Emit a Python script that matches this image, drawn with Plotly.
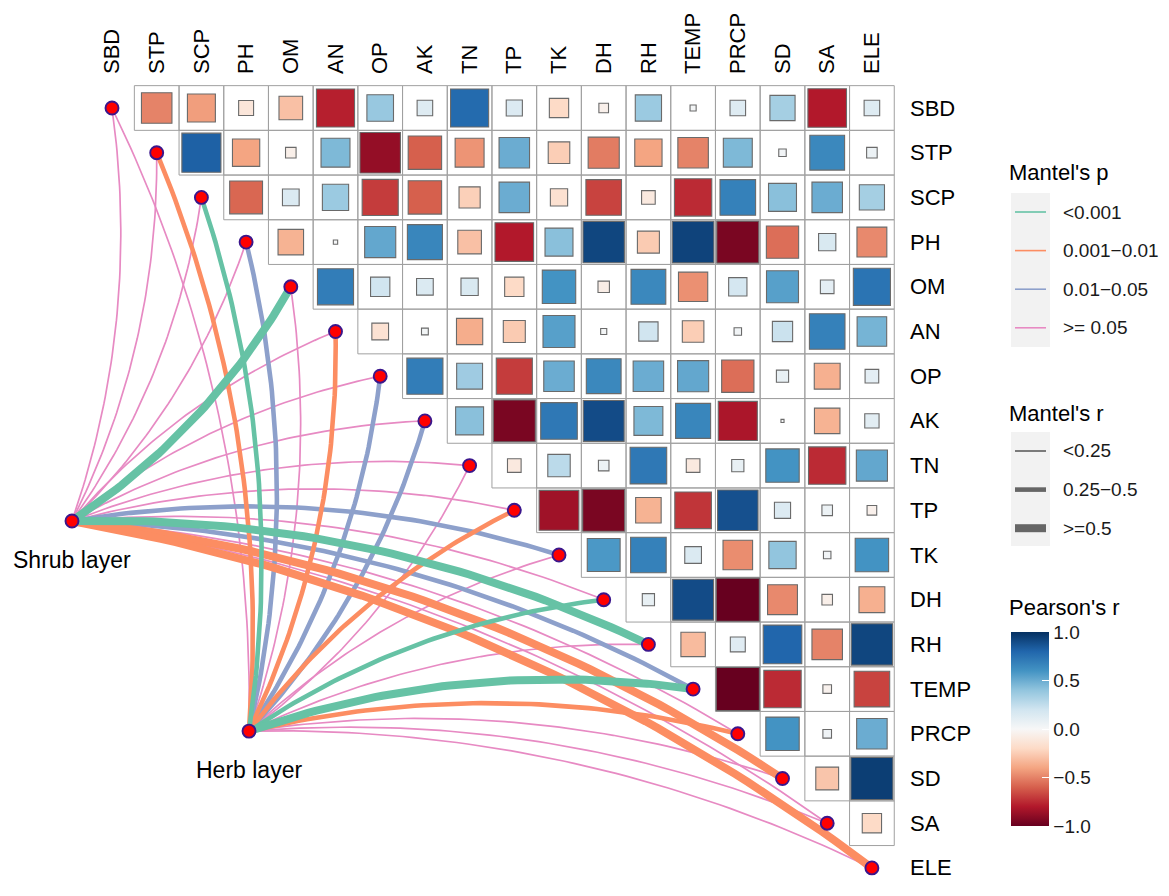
import math
import plotly.graph_objects as go

# ---------------- data ----------------
variables = ["SBD", "STP", "SCP", "PH", "OM", "AN", "OP", "AK", "TN", "TP",
             "TK", "DH", "RH", "TEMP", "PRCP", "SD", "SA", "ELE"]

# Pearson's r (upper triangle, row i holds columns i+1 .. 17)
r_SBD = [-0.50, -0.42, -0.12, -0.30, -0.78, 0.38, 0.13, 0.78, 0.14, -0.20, -0.05, 0.37, 0.02, 0.13, 0.34, -0.80, 0.13]
r_STP = [0.82, -0.40, -0.06, 0.45, -0.88, -0.60, -0.45, 0.50, -0.25, -0.52, -0.40, -0.50, 0.45, 0.03, 0.65, 0.06]
r_SCP = [-0.58, 0.15, 0.37, -0.70, -0.60, -0.24, 0.50, -0.16, -0.68, -0.10, -0.75, 0.68, 0.42, 0.50, 0.34]
r_PH = [-0.35, 0.01, 0.52, 0.66, -0.30, -0.80, 0.42, 0.92, -0.26, 0.93, -0.95, -0.56, 0.16, -0.48]
r_OM = [0.70, 0.20, 0.15, 0.16, -0.20, 0.60, -0.07, 0.65, -0.46, 0.18, 0.55, 0.10, 0.74]
r_AN = [-0.15, 0.025, -0.37, -0.26, 0.55, 0.02, 0.20, -0.25, 0.03, 0.22, 0.68, 0.47]
r_OP = [0.70, 0.36, -0.70, 0.50, 0.65, 0.50, 0.52, -0.56, 0.08, -0.36, 0.10]
r_AK = [0.42, -0.95, 0.72, 0.90, 0.45, 0.66, -0.82, 0.005, -0.35, 0.11]
r_TN = [-0.10, 0.27, 0.06, 0.72, -0.10, 0.08, 0.60, -0.75, 0.52]
r_TP = [-0.85, -0.95, -0.35, -0.72, 0.88, 0.14, 0.06, -0.05]
r_TK = [0.58, 0.68, 0.15, -0.47, 0.40, 0.03, 0.60]
r_DH = [0.08, 0.90, -1.00, -0.48, -0.06, -0.36]
r_RH = [-0.32, 0.12, 0.80, -0.50, 0.92]
r_TEMP = [-1.00, -0.75, -0.04, -0.68]
r_PRCP = [0.60, 0.04, 0.50]
r_SD = [-0.28, 0.95]
r_SA = [-0.20]
r_rows = [r_SBD, r_STP, r_SCP, r_PH, r_OM, r_AN, r_OP, r_AK, r_TN, r_TP,
          r_TK, r_DH, r_RH, r_TEMP, r_PRCP, r_SD, r_SA]

# Mantel test classes (one entry per variable, same order as `variables`)
layers = ["Shrub layer", "Herb layer"]
shrub_p = [">= 0.05", ">= 0.05", ">= 0.05", ">= 0.05", "<0.001", ">= 0.05", ">= 0.05", ">= 0.05", ">= 0.05",
           ">= 0.05", "0.01-0.05", ">= 0.05", "<0.001", "0.01-0.05", ">= 0.05", "0.001-0.01", ">= 0.05", "0.001-0.01"]
shrub_r = ["<0.25", "<0.25", "<0.25", "<0.25", ">=0.5", "<0.25", "<0.25", "<0.25", "<0.25",
           "<0.25", "0.25-0.5", "<0.25", ">=0.5", "0.25-0.5", "<0.25", ">=0.5", "<0.25", ">=0.5"]
herb_p = [">= 0.05", "0.001-0.01", "<0.001", "0.01-0.05", ">= 0.05", "0.001-0.01", "0.01-0.05", "0.01-0.05", ">= 0.05",
          "0.001-0.01", ">= 0.05", "<0.001", ">= 0.05", "<0.001", "0.001-0.01", ">= 0.05", ">= 0.05", ">= 0.05"]
herb_r = ["<0.25", "0.25-0.5", "0.25-0.5", "0.25-0.5", "<0.25", "0.25-0.5", "0.25-0.5", "0.25-0.5", "<0.25",
          "0.25-0.5", "<0.25", "0.25-0.5", "<0.25", ">=0.5", "0.25-0.5", "<0.25", "<0.25", "<0.25"]

p_levels = ["<0.001", "0.001-0.01", "0.01-0.05", ">= 0.05"]
p_labels = ["<0.001", "0.001\u22120.01", "0.01\u22120.05", ">= 0.05"]
r_levels = ["<0.25", "0.25-0.5", ">=0.5"]
r_labels = ["<0.25", "0.25\u22120.5", ">=0.5"]
cbar_ticks = [-1.0, -0.5, 0.0, 0.5, 1.0]
cbar_labels = ["\u22121.0", "\u22120.5", "0.0", "0.5", "1.0"]

# ---------------- styles / layout ----------------
p_colors = {"<0.001": "#66C2A5", "0.001-0.01": "#FC8D62", "0.01-0.05": "#8DA0CB", ">= 0.05": "#E78AC3"}
r_widths = {"<0.25": 1.7, "0.25-0.5": 4.6, ">=0.5": 8.0}
rdbu = ["#67001F", "#B2182B", "#D6604D", "#F4A582", "#FDDBC7", "#F7F7F7",
        "#D1E5F0", "#92C5DE", "#4393C3", "#2166AC", "#053061"]
colorscale = [[k / 10, c] for k, c in enumerate(rdbu)]
FONT = "Liberation Sans, Arial, Helvetica, sans-serif"

W, H = 1169, 896
MT = 75                      # top margin (room for column labels)
S = 44.7                     # pixels per cell
X0, Y0 = 112, 108            # pixel position of cell (0, 0)
x_range = [(0 - X0) / S, (W - X0) / S]
y_range = [(H - Y0) / S, (MT - Y0) / S]
layer_pos = {"Shrub layer": (-0.895, 9.24), "Herb layer": (3.065, 13.94)}


def pxx(px):
    return px / W


def pyy(py):
    return (H - py) / (H - MT)


def curve(x0, y0, x1, y1, k=0.12, n=60):
    dx, dy = x1 - x0, y1 - y0
    L = math.hypot(dx, dy)
    nx, ny = -dy / L, dx / L
    if nx - ny < 0:
        nx, ny = -nx, -ny
    cx = (x0 + x1) / 2 + nx * k * L
    cy = (y0 + y1) / 2 + ny * k * L
    xs, ys = [], []
    for i in range(n):
        t = i / (n - 1)
        xs.append((1 - t) ** 2 * x0 + 2 * (1 - t) * t * cx + t ** 2 * x1)
        ys.append((1 - t) ** 2 * y0 + 2 * (1 - t) * t * cy + t ** 2 * y1)
    return xs, ys


fig = go.Figure()

# grid of the upper triangle
gx, gy = [], []
n = len(variables)
for i in range(n):
    for j in range(i + 1, n):
        for (a, b, c, d) in [(j - .5, i - .5, j + .5, i - .5), (j + .5, i - .5, j + .5, i + .5),
                             (j + .5, i + .5, j - .5, i + .5), (j - .5, i + .5, j - .5, i - .5)]:
            gx += [a, c, None]
            gy += [b, d, None]
fig.add_trace(go.Scatter(x=gx, y=gy, mode="lines", line=dict(color="#A0A0A0", width=1),
                         hoverinfo="skip", showlegend=False))

# Mantel links
links = []
for layer, pl, rl in [("Shrub layer", shrub_p, shrub_r), ("Herb layer", herb_p, herb_r)]:
    for k, var in enumerate(variables):
        links.append((layer, k, pl[k], rl[k]))
order = {">= 0.05": 0, "0.01-0.05": 1, "0.001-0.01": 2, "<0.001": 3}
links.sort(key=lambda t: (order[t[2]], r_widths[t[3]]))
for layer, k, pc, rc in links:
    lx, ly = layer_pos[layer]
    xs, ys = curve(lx, ly, k, k)
    fig.add_trace(go.Scatter(x=xs, y=ys, mode="lines",
                             line=dict(color=p_colors[pc], width=r_widths[rc]),
                             hoverinfo="skip", showlegend=False))

# correlation squares
sx, sy, sv, ss = [], [], [], []
for i, row in enumerate(r_rows):
    for m, v in enumerate(row):
        j = i + 1 + m
        sx.append(j)
        sy.append(i)
        sv.append(v)
        ss.append(math.sqrt(abs(v)) * S * 0.965)
fig.add_trace(go.Scatter(
    x=sx, y=sy, mode="markers", hoverinfo="skip", showlegend=False,
    marker=dict(symbol="square", size=ss, color=sv, cmin=-1, cmax=1, colorscale=colorscale,
                opacity=1,
                line=dict(color="#6A6A6A", width=1.1),
                showscale=True,
                colorbar=dict(
                    x=pxx(1011), xanchor="left", y=pyy(826), yanchor="bottom",
                    len=194 / (H - MT), lenmode="fraction", thickness=38, thicknessmode="pixels",
                    xpad=0, ypad=0, outlinewidth=0,
                    tickvals=cbar_ticks, ticktext=cbar_labels,
                    ticks="inside", tickcolor="white", ticklen=7, tickwidth=1,
                    tickfont=dict(family=FONT, size=19, color="#1A1A1A"))),
))

# diagonal dots
fig.add_trace(go.Scatter(x=list(range(n)), y=list(range(n)), mode="markers", hoverinfo="skip",
                         showlegend=False,
                         marker=dict(size=13, color="#FF0000", opacity=1,
                                     line=dict(color="#3B168C", width=1.9))))
# layer nodes
fig.add_trace(go.Scatter(x=[layer_pos[l][0] for l in layers], y=[layer_pos[l][1] for l in layers],
                         mode="markers", hoverinfo="skip", showlegend=False,
                         marker=dict(size=13, color="#FF0000", opacity=1,
                                     line=dict(color="#3B168C", width=1.9))))

annotations = []
# row labels on the right
for i, v in enumerate(variables):
    annotations.append(dict(x=17.5, y=i, xref="x", yref="y", text=v, showarrow=False,
                            xanchor="left", xshift=14, font=dict(family=FONT, size=22, color="#000000")))
# layer labels
for l in layers:
    annotations.append(dict(x=layer_pos[l][0], y=layer_pos[l][1], xref="x", yref="y", text=l,
                            showarrow=False, xanchor="center", yanchor="middle", yshift=-39,
                            font=dict(family=FONT, size=23, color="#000000")))

shapes = []
# Mantel's p legend
annotations.append(dict(x=pxx(1007), y=pyy(172), xref="paper", yref="paper", text="Mantel's p",
                        showarrow=False, xanchor="left", yanchor="middle",
                        font=dict(family=FONT, size=22, color="#000000")))
shapes.append(dict(type="rect", xref="paper", yref="paper", x0=pxx(1011), x1=pxx(1050),
                   y0=pyy(347), y1=pyy(193), fillcolor="#F2F2F2", line=dict(width=0), layer="below"))
for k, lev in enumerate(p_levels):
    yy = 212 + 38.6 * k
    shapes.append(dict(type="line", xref="paper", yref="paper", x0=pxx(1015), x1=pxx(1046),
                       y0=pyy(yy), y1=pyy(yy), line=dict(color=p_colors[lev], width=1.6)))
    annotations.append(dict(x=pxx(1061), y=pyy(yy), xref="paper", yref="paper", text=p_labels[k],
                            showarrow=False, xanchor="left", yanchor="middle",
                            font=dict(family=FONT, size=19, color="#1A1A1A")))
# Mantel's r legend
annotations.append(dict(x=pxx(1007), y=pyy(413), xref="paper", yref="paper", text="Mantel's r",
                        showarrow=False, xanchor="left", yanchor="middle",
                        font=dict(family=FONT, size=22, color="#000000")))
shapes.append(dict(type="rect", xref="paper", yref="paper", x0=pxx(1011), x1=pxx(1050),
                   y0=pyy(546), y1=pyy(432), fillcolor="#F2F2F2", line=dict(width=0), layer="below"))
for k, lev in enumerate(r_levels):
    yy = 451 + 38.6 * k
    shapes.append(dict(type="line", xref="paper", yref="paper", x0=pxx(1015), x1=pxx(1046),
                       y0=pyy(yy), y1=pyy(yy), line=dict(color="#666666", width=r_widths[lev])))
    annotations.append(dict(x=pxx(1061), y=pyy(yy), xref="paper", yref="paper", text=r_labels[k],
                            showarrow=False, xanchor="left", yanchor="middle",
                            font=dict(family=FONT, size=19, color="#1A1A1A")))
# Pearson's r colourbar title
annotations.append(dict(x=pxx(1007), y=pyy(607), xref="paper", yref="paper", text="Pearson's r",
                        showarrow=False, xanchor="left", yanchor="middle",
                        font=dict(family=FONT, size=22, color="#000000")))

fig.update_layout(
    width=W, height=H, autosize=False,
    margin=dict(l=0, r=0, t=MT, b=0, pad=0, autoexpand=False),
    paper_bgcolor="white", plot_bgcolor="white",
    showlegend=False,
    annotations=annotations, shapes=shapes,
    xaxis=dict(range=x_range, side="top", tickmode="array", tickvals=list(range(n)), ticktext=variables,
               tickangle=-90, ticks="", showgrid=False, zeroline=False, showline=False,
               tickfont=dict(family=FONT, size=22, color="#000000"), fixedrange=True, automargin=False),
    yaxis=dict(range=y_range, visible=False, showgrid=False, zeroline=False, fixedrange=True),
)

fig.write_html("out.html", post_script="document.body.style.margin='0';",
               config={"displayModeBar": False})
